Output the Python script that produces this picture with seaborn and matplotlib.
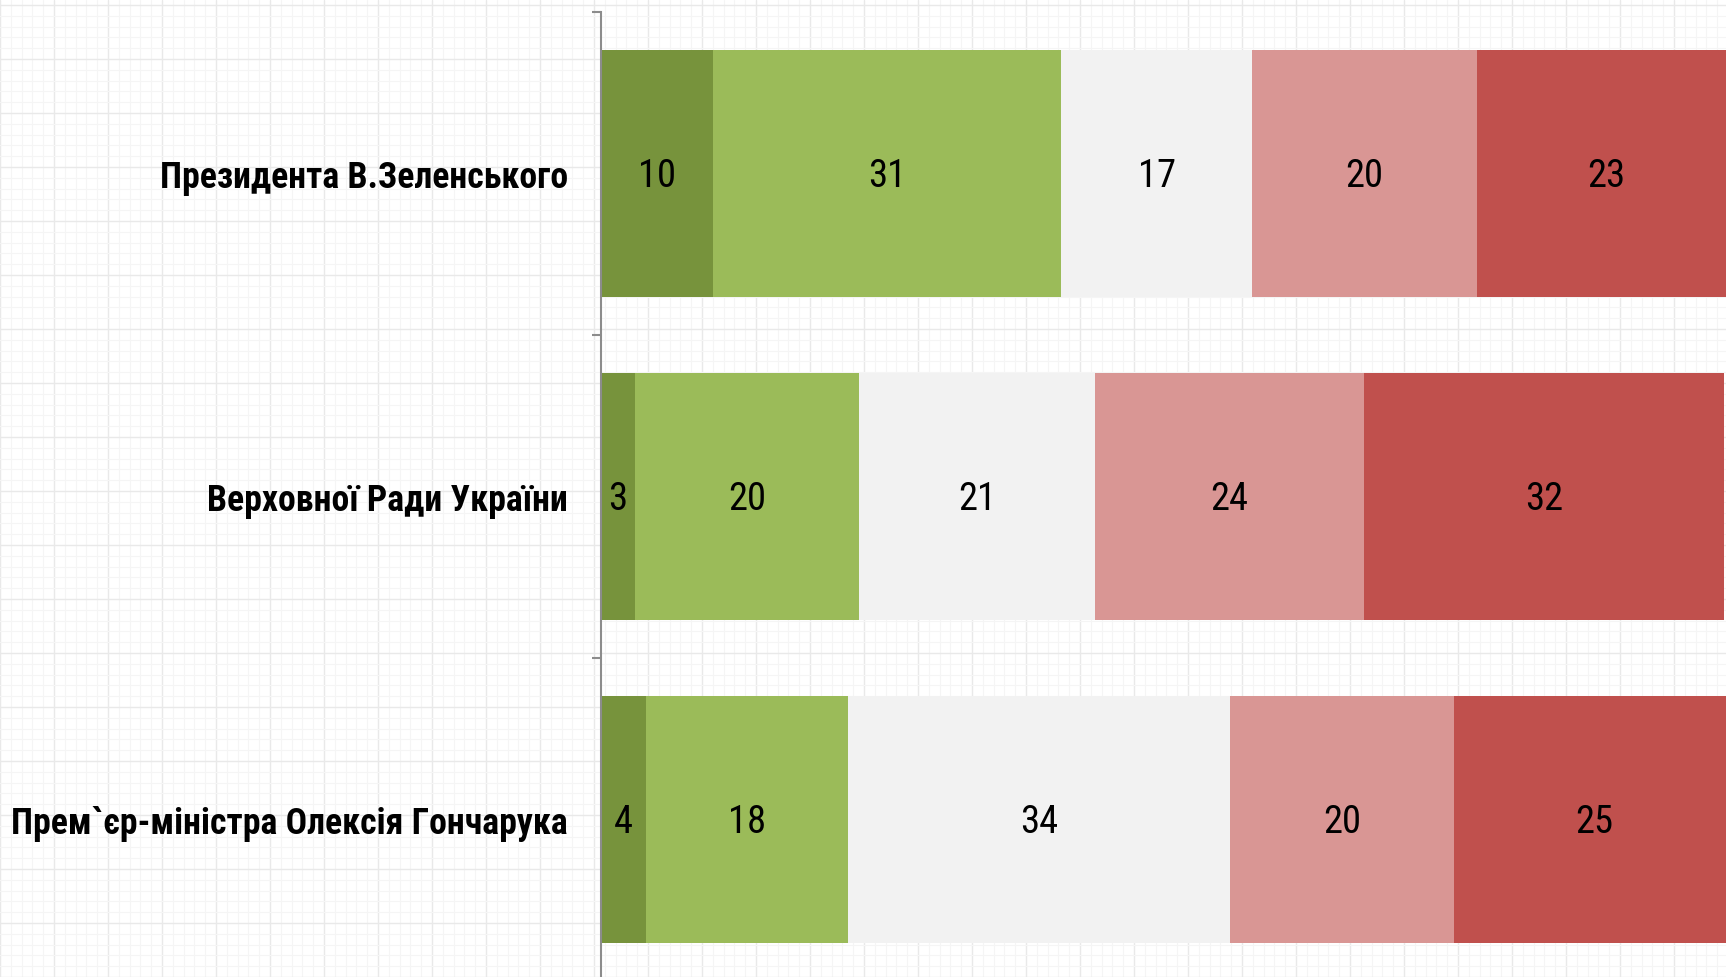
import numpy as np
import pandas as pd
import matplotlib
matplotlib.use("Agg")
import matplotlib.pyplot as plt
from matplotlib import font_manager
from matplotlib.ticker import MultipleLocator
import seaborn as sns

categories = ["Президента В.Зеленського", "Верховної Ради України", "Прем`єр-міністра Олексія Гончарука"]
series_names = ["Повністю підтримую", "Скоріше підтримую", "Важко сказати", "Скоріше не підтримую", "Зовсім не підтримую"]
v_full_support = [10, 3, 4]
v_rather_support = [31, 20, 18]
v_hard_to_say = [17, 21, 34]
v_rather_not = [20, 24, 20]
v_not_at_all = [23, 32, 25]
colors = ["#77933C", "#9BBB59", "#F2F2F2", "#D99694", "#C0504D"]

series = [v_full_support, v_rather_support, v_hard_to_say, v_rather_not, v_not_at_all]

sns.set_theme(style="white")
avail = {f.name for f in font_manager.fontManager.ttflist}
font = "Roboto"
for cand in ["Liberation Sans Narrow", "Roboto Condensed", "Open Sans Condensed", "DejaVu Sans Condensed", "Roboto"]:
    if cand in avail:
        font = cand
        break
plt.rcParams['font.family'] = [font, 'DejaVu Sans']

W, H = 1726, 977
fig = plt.figure(figsize=(W / 100, H / 100), dpi=100)
fig.patch.set_facecolor("white")

# faint paper-like grid background
bg = fig.add_axes([0, 0, 1, 1], zorder=0)
bg.set_xlim(0, W)
bg.set_ylim(0, H)
bg.xaxis.set_major_locator(MultipleLocator(54))
bg.yaxis.set_major_locator(MultipleLocator(54))
bg.xaxis.set_minor_locator(MultipleLocator(10.8))
bg.yaxis.set_minor_locator(MultipleLocator(10.8))
bg.grid(True, which="major", color="#e9e9e9", lw=1.0)
bg.grid(True, which="minor", color="#f5f5f5", lw=0.8)
bg.tick_params(which="both", length=0, labelbottom=False, labelleft=False)
for s in bg.spines.values():
    s.set_visible(False)
bg.set_facecolor("white")

left = 601 / W
top = 12 / H
bottom = (H - 981) / H
ax = fig.add_axes([left, bottom, 1 - left, 1 - top - bottom], zorder=1)
ax.patch.set_alpha(0)

df = pd.DataFrame({"cat": categories})
cum = np.cumsum(np.array(series), axis=0)
for i in reversed(range(len(series))):
    df["v"] = cum[i]
    sns.barplot(data=df, x="v", y="cat", color=colors[i], width=0.765,
                saturation=1, orient="h", ax=ax, linewidth=0, edgecolor="none")

# fit font sizes to the reference's text extents
renderer = fig.canvas.get_renderer()
probe = fig.text(0, 0, categories[2], fontsize=25, fontweight="bold")
w = probe.get_window_extent(renderer).width
probe.remove()
cat_fs = min(30, 25 * 557 / w)
probe = fig.text(0, 0, "10", fontsize=31)
w2 = probe.get_window_extent(renderer).width
probe.remove()
val_fs = min(33, 31 * 38 / w2)

starts = cum - np.array(series)
for i in range(len(series)):
    for j in range(len(categories)):
        ax.text(starts[i][j] + series[i][j] / 2, j + 0.01, str(series[i][j]),
                ha="center", va="center", fontsize=val_fs, color="black")

ax.set_xlim(0, 100.2)
ax.set_ylim(2.5, -0.5)
ax.set_xlabel("")
ax.set_ylabel("")
ax.set_xticks([])
ax.set_yticks(range(len(categories)))
ax.set_yticklabels(categories, fontsize=cat_fs, fontweight="bold", color="black")
ax.tick_params(axis="y", which="major", length=0, pad=24)
ax.set_yticks([-0.5, 0.5, 1.5, 2.5], minor=True)
ax.tick_params(axis="y", which="minor", length=6.5, width=1.5, color="#8c8c8c", left=True)
for name in ["top", "right", "bottom"]:
    ax.spines[name].set_visible(False)
ax.spines["left"].set_color("#8c8c8c")
ax.spines["left"].set_linewidth(1.5)

fig.savefig("out.png", dpi=100)
